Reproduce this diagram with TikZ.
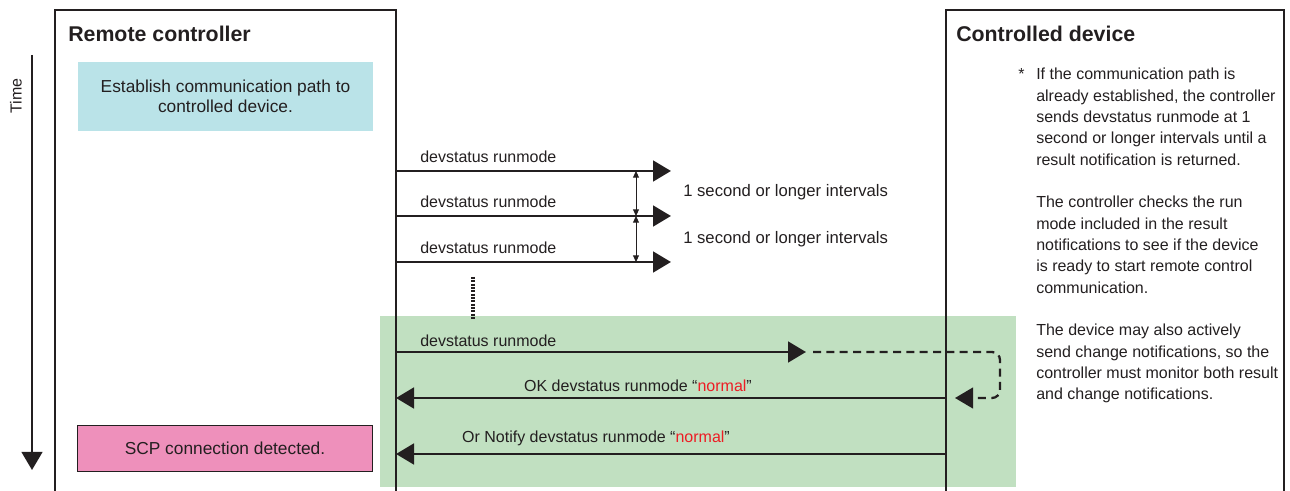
\documentclass[tikz,border=0pt]{standalone}
\usepackage{fontspec}
\setmainfont{Liberation Sans}
\usetikzlibrary{arrows.meta, positioning, calc}
\definecolor{ink}{HTML}{231F20}
\definecolor{pathcyan}{HTML}{BAE3E8}
\definecolor{detectpink}{HTML}{EE90BB}
\definecolor{zonegreen}{HTML}{C1E0C1}
\definecolor{normalred}{HTML}{ED1C24}
\tikzset{
  lane/.style={draw=ink, line width=1.7pt},
  msg/.style={-{Triangle[length=13.5pt, width=15.5pt]}, draw=ink, fill=ink, line width=2.1pt},
  gap/.style={{Triangle[length=5pt, width=4.5pt]}-{Triangle[length=5pt, width=4.5pt]}, draw=ink, line width=0.7pt},
  dotline/.style={draw=ink, line width=2.4pt, dash pattern=on 1.6pt off 0.9pt},
  loopback/.style={-{Triangle[length=13.5pt, width=15.5pt]}, draw=ink, line width=1.7pt,
    dash pattern=on 6pt off 4pt, rounded corners=6pt},
  timeline/.style={-{Triangle[length=13.5pt, width=15.5pt]}, draw=ink, line width=1.7pt}
}

\begin{document}
\begin{tikzpicture}[x=0.75pt, y=-0.75pt,
    every node/.style={text=ink, inner sep=0pt},
    lanetitle/.style={font=\fontsize{16}{19}\selectfont\bfseries},
    actbox/.style={minimum width=221.5pt, align=center, font=\fontsize{13}{15}\selectfont},
    msglabel/.style={font=\fontsize{12}{14}\selectfont},
    gaplabel/.style={font=\fontsize{12.5}{15}\selectfont},
    notetext/.style={align=left, font=\fontsize{12}{16}\selectfont}
    ]
    \useasboundingbox (0,0) rectangle (1290,491);
    \fill[zonegreen] (380,316) rectangle (1016,487);
    \draw[lane] (55,491) -- (55,10) -- (396,10) -- (396,491);
    \draw[lane] (946,491) -- (946,10) -- (1284,10) -- (1284,491);
    \node[lanetitle, anchor=base west] (rc) at (68,42) {Remote controller};
    \node[lanetitle, anchor=base west] (cd) at (956,42) {Controlled device};
    \node[font=\fontsize{12}{14}\selectfont, rotate=90] (time) at (16,96) {Time};
    \coordinate (t0) at (32,55);
    \coordinate (t1) at (32,470);
    \draw[timeline] (t0) -- (t1);
    \node[actbox, fill=pathcyan, minimum height=51.75pt] (est) at (225.5,96.5)
    {Establish communication path to\\controlled device.};
    \node[actbox, fill=detectpink, draw=ink, line width=0.6pt, minimum height=34.5pt] (scp) at (225,448)
    {SCP connection detected.};
    \foreach \y [count=\i] in {171,216,262}{
      \coordinate (c\i) at (396,\y);
      \coordinate (d\i) at (671,\y);
      \coordinate (g\i) at (636,\y);
    }
    \foreach \i in {1,2,3}{
      \draw[msg] (c\i) -- (d\i);
      \node[msglabel, anchor=west] (m\i) at ($(c\i)+(24,-14)$) {devstatus runmode};
    }
    \draw[gap] (g1) -- (g2);
    \draw[gap] (g2) -- (g3);
    \node[gaplabel, anchor=west] (iv1) at (683,192) {1 second or longer intervals};
    \node[gaplabel, anchor=west] (iv2) at (683,239) {1 second or longer intervals};
    \coordinate (dt0) at (473,277);
    \coordinate (dt1) at (473,320);
    \draw[dotline] (dt0) -- (dt1);
    \coordinate (c4) at (396,352);
    \coordinate (d4) at (806,352);
    \coordinate (lp0) at (813,352);
    \coordinate (lp1) at (1000,352);
    \coordinate (lp2) at (1000,398);
    \coordinate (lp3) at (955,398);
    \coordinate (d5) at (946,398);
    \coordinate (c5) at (396,398);
    \coordinate (d6) at (946,454);
    \coordinate (c6) at (396,454);
    \draw[msg] (c4) -- (d4);
    \node[msglabel, anchor=west] (m4) at ($(c4)+(24,-11)$) {devstatus runmode};
    \draw[loopback] (lp0) -- (lp1) -- (lp2) -- (lp3);
    \draw[msg] (d5) -- (c5);
    \node[msglabel] (ok) at (638,386) {OK devstatus runmode “\textcolor{normalred}{normal}”};
    \draw[msg] (d6) -- (c6);
    \node[msglabel] (ntf) at (596,438) {Or Notify devstatus runmode “\textcolor{normalred}{normal}”};
    \node[notetext, anchor=base west] (star) at (1018,80) {*};
    \node[notetext, anchor=north west] (note) at (1036,68)
    {If the communication path is\\
     already established, the controller\\
     sends devstatus runmode at 1\\
     second or longer intervals until a\\
     result notification is returned.\\[16pt]
     The controller checks the run\\
     mode included in the result\\
     notifications to see if the device\\
     is ready to start remote control\\
     communication.\\[16pt]
     The device may also actively\\
     send change notifications, so the\\
     controller must monitor both result\\
     and change notifications.};
\end{tikzpicture}
\end{document}
